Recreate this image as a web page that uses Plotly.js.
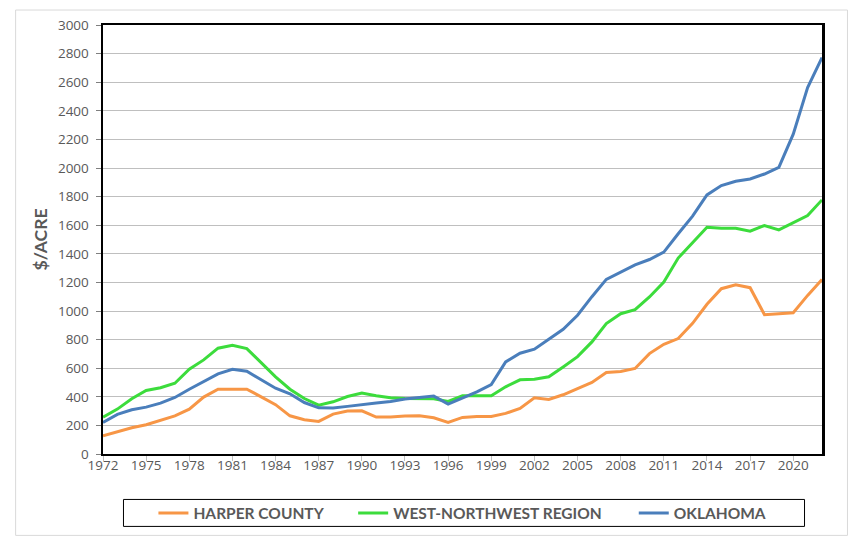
<!DOCTYPE html>
<html>
<head>
<meta charset="utf-8">
<script src="https://cdn.plot.ly/plotly-3.0.1.min.js"></script>
<style>
  html, body { margin: 0; padding: 0; background: #ffffff; }
  #chart { width: 868px; height: 543px; }
</style>
</head>
<body>
<div id="chart"></div>
<script>
const years = [1972,1973,1974,1975,1976,1977,1978,1979,1980,1981,
  1982,1983,1984,1985,1986,1987,1988,1989,1990,1991,
  1992,1993,1994,1995,1996,1997,1998,1999,2000,2001,
  2002,2003,2004,2005,2006,2007,2008,2009,2010,2011,
  2012,2013,2014,2015,2016,2017,2018,2019,2020,2021,2022];

const harperCounty = [128,156,184,205,235,267,314,398,453,453,
  453,400,345,267,240,228,279,300,302,258,
  258,265,267,253,221,256,263,263,284,319,
  393,381,414,458,500,570,577,598,702,767,
  807,914,1047,1156,1184,1163,974,981,988,1109,1221];

const westNorthwest = [258,314,386,444,463,495,593,658,740,760,
  737,640,540,453,388,342,365,402,426,407,
  393,388,386,386,368,407,407,407,470,519,
  523,540,609,681,784,912,981,1009,1098,1202,
  1370,1481,1586,1579,1579,1558,1598,1567,1616,1667,1777];

const oklahoma = [221,277,309,328,356,395,453,505,560,593,
  579,519,460,421,360,323,321,333,347,356,
  367,384,395,405,349,391,435,486,644,705,
  733,802,872,970,1100,1221,1272,1323,1360,1412,
  1540,1663,1812,1877,1907,1923,1958,2005,2237,2563,2772];

const xTickVals = [1972,1975,1978,1981,1984,1987,1990,1993,1996,1999,2002,2005,2008,2011,2014,2017,2020];
const yTickVals = [0,200,400,600,800,1000,1200,1400,1600,1800,2000,2200,2400,2600,2800,3000];

const seriesNames = ["HARPER COUNTY", "WEST-NORTHWEST REGION", "OKLAHOMA"];
const seriesColors = ["#F79646", "#3CDC3C", "#4A7EBB"];
const seriesValues = [harperCounty, westNorthwest, oklahoma];
const legendIds = ["legend", "legend2", "legend3"];

const traces = seriesValues.map((vals, i) => ({
  type: "scatter",
  mode: "lines",
  x: years,
  y: vals,
  name: seriesNames[i],
  legend: legendIds[i],
  line: { color: seriesColors[i], width: 3 },
  hoverinfo: "skip"
}));

const W = 868, H = 543;
const L = 102.5, R = 45.5, T = 25, B = 88.5;
const pw = W - L - R, ph = H - T - B;
const px = v => (v - L) / pw;
const py = v => (H - B - v) / ph;

const legendFont = { family: "Lato, sans-serif", size: 15.5, color: "#595959", weight: "bold" };
const legendX = [153, 353, 634];
function makeLegend(xpix) {
  return {
    orientation: "h",
    x: px(xpix), xanchor: "left",
    y: py(497), yanchor: "top",
    borderwidth: 0,
    bgcolor: "rgba(0,0,0,0)",
    font: legendFont,
    itemwidth: 30
  };
}

const layout = {
  width: W, height: H,
  margin: { l: L, r: R, t: T, b: B, pad: 0, autoexpand: false },
  paper_bgcolor: "#ffffff",
  plot_bgcolor: "#ffffff",
  font: { family: "'Open Sans', sans-serif", color: "#595959", size: 13 },
  showlegend: true,
  legend: makeLegend(legendX[0]),
  legend2: makeLegend(legendX[1]),
  legend3: makeLegend(legendX[2]),
  xaxis: {
    range: [1972, 2022],
    tickmode: "array",
    tickvals: xTickVals,
    ticktext: xTickVals.map(String),
    ticks: "outside", ticklen: 5, tickcolor: "#BFBFBF", tickwidth: 1,
    showgrid: false, zeroline: false,
    showline: true, linecolor: "#000000", linewidth: 2, mirror: true,
    tickfont: { family: "'Open Sans', sans-serif", size: 13.5, color: "#595959" },
    ticklabelstandoff: -7,
    fixedrange: true
  },
  yaxis: {
    range: [0, 3000],
    tickmode: "array",
    tickvals: yTickVals,
    ticks: "outside", ticklen: 5, tickcolor: "#7F7F7F", tickwidth: 1,
    showgrid: true, gridcolor: "#BFBFBF", gridwidth: 1,
    zeroline: false,
    showline: true, linecolor: "#000000", linewidth: 2.5, mirror: true,
    tickfont: { family: "'Open Sans', sans-serif", size: 13.5, color: "#595959" },
    ticklabelstandoff: 4,
    title: { text: "$/ACRE", standoff: 6, font: { family: "Lato, sans-serif", size: 17.5, color: "#595959", weight: "bold" } },
    fixedrange: true
  },
  shapes: [
    {
      type: "rect", xref: "paper", yref: "paper",
      x0: px(15), x1: px(848), y0: py(536), y1: py(10),
      line: { color: "#D9D9D9", width: 1 }, layer: "below"
    },
    {
      type: "rect", xref: "paper", yref: "paper",
      x0: px(123), x1: px(805), y0: py(527), y1: py(500),
      line: { color: "#000000", width: 1 }, layer: "above"
    }
  ]
};

Plotly.newPlot("chart", traces, layout, { displayModeBar: false, staticPlot: true });
</script>
</body>
</html>
